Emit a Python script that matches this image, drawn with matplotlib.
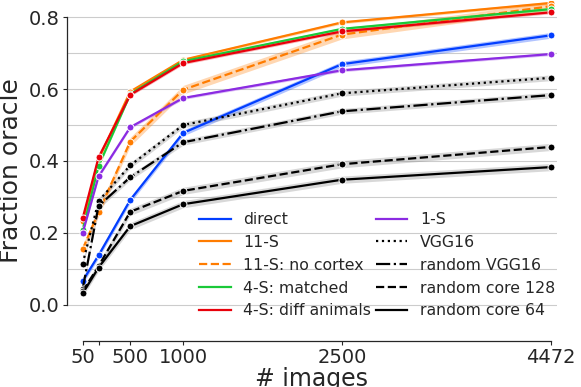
import matplotlib.pyplot as plt
from matplotlib.lines import Line2D
import numpy as np

# number of training images
n_images = [50, 200, 500, 1000, 2500, 4472]
tick_labels = ["50", "", "500", "1000", "2500", "4472"]

# fraction oracle per model
direct = [0.067, 0.138, 0.292, 0.478, 0.669, 0.749]
s11 = [0.232, 0.405, 0.593, 0.681, 0.785, 0.839]
s11_no_cortex = [0.155, 0.258, 0.454, 0.598, 0.751, 0.830]
s4_matched = [0.209, 0.386, 0.586, 0.677, 0.767, 0.822]
s4_diff = [0.241, 0.410, 0.584, 0.672, 0.760, 0.813]
s1 = [0.200, 0.357, 0.494, 0.575, 0.652, 0.697]
vgg16 = [0.115, 0.289, 0.388, 0.500, 0.588, 0.631]
random_vgg16 = [0.045, 0.275, 0.355, 0.452, 0.538, 0.583]
random_core128 = [0.038, 0.108, 0.259, 0.317, 0.391, 0.439]
random_core64 = [0.032, 0.104, 0.219, 0.280, 0.348, 0.383]

# rough half width of the confidence bands
ci = [0.008, 0.004, 0.012, 0.004, 0.004, 0.004, 0.008, 0.008, 0.010, 0.010]

labels = ["direct", "11-S", "11-S: no cortex", "4-S: matched", "4-S: diff animals",
          "1-S", "VGG16", "random VGG16", "random core 128", "random core 64"]
series = [direct, s11, s11_no_cortex, s4_matched, s4_diff,
          s1, vgg16, random_vgg16, random_core128, random_core64]
colors = ["#023eff", "#ff7c00", "#ff7c00", "#1ac938", "#e8000b",
          "#8b2be2", "k", "k", "k", "k"]
styles = ["-", "-", "--", "-", "-", "-", ":", "-.", "--", "-"]

fig = plt.figure(figsize=(5.81, 3.87), dpi=100)
ax = fig.add_axes([0.1148, 0.1189, 0.8439, 0.879])

handles = []
for y, lab, c, ls, w in zip(series, labels, colors, styles, ci):
    y = np.array(y)
    band_c = "0.5" if c == "k" else c
    ax.fill_between(n_images, y - w, y + w, color=band_c, alpha=0.3, lw=0)
    ax.plot(n_images, y, color=c, ls=ls, lw=1.6, marker="o", ms=5,
            mec="white", mew=0.7)
    handles.append(Line2D([], [], color=c, ls=ls, lw=1.6))

ax.set_xlim(-101, 4533)
ax.set_ylim(-0.1, 0.845)
ax.set_xticks(n_images)
ax.set_xticklabels(tick_labels)
ax.set_yticks([0.0, 0.2, 0.4, 0.6, 0.8])
ax.set_yticks([0.1, 0.3, 0.5, 0.7], minor=True)
ax.yaxis.grid(True, which="both", color="#cccccc", lw=0.8)
ax.set_axisbelow(True)
ax.tick_params(axis="both", which="major", labelsize=14, length=3, width=0.8,
               colors="#262626", pad=2)
ax.tick_params(axis="y", which="minor", length=0)

for side in ["top", "right"]:
    ax.spines[side].set_visible(False)
ax.spines["left"].set_bounds(0, 0.8)
ax.spines["bottom"].set_bounds(50, 4472)
for side in ["left", "bottom"]:
    ax.spines[side].set_color("#262626")
    ax.spines[side].set_linewidth(0.9)

ax.set_xlabel("# images", fontsize=17, color="#262626", labelpad=0)
ax.set_ylabel("Fraction oracle", fontsize=18, color="#262626", labelpad=4)

fig.legend(handles, labels, ncol=2, frameon=False, fontsize=11.3,
           loc="upper left", bbox_to_anchor=(199.3 / 581, 1 - 212 / 387),
           borderpad=0, borderaxespad=0, labelspacing=0.5,
           columnspacing=0.3, handlelength=2.0, handletextpad=0.8,
           labelcolor="#262626")

fig.savefig("out.png", dpi=100)
